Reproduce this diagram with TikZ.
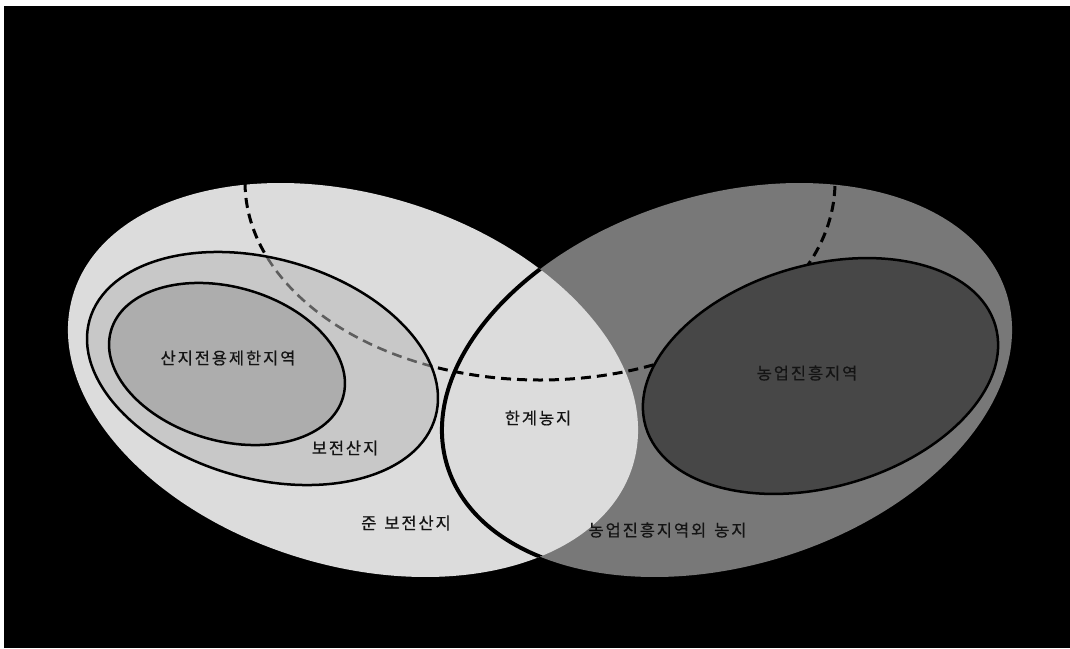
\documentclass[tikz,border=0pt]{standalone}
\usepackage{fontspec}
\newfontfamily\kr[FakeBold=0.5]{Noto Sans CJK KR}
\definecolor{lightg}{HTML}{DCDCDC}
\definecolor{rightg}{HTML}{787878}
\definecolor{bojeon}{HTML}{C8C8C8}
\definecolor{sanji}{HTML}{ADADAD}
\definecolor{nongup}{HTML}{474747}
\definecolor{dashg}{HTML}{5E5E5E}
\definecolor{txt}{HTML}{141414}
\def\lsp{\kern1.9pt}
\tikzset{
  lbl/.style={font=\kr\fontsize{16.5}{19}\selectfont, text=txt, inner sep=0pt},
  rim/.style={draw=black, line width=2.5pt},
  dashline/.style={line width=3pt, dash pattern=on 10pt off 6pt},
}
\begin{document}
\begin{tikzpicture}[x=1pt,y=-1pt]
\useasboundingbox (0,0) rectangle (1070,648);
\fill[white] (0,0) rectangle (1070,648);
\fill[black] (4,6) rectangle (1070,648);
% big ellipses
\fill[rightg, rotate around={17:(727,380)}] (727,380) ellipse [x radius=292.6pt, y radius=185.5pt];
\fill[lightg, rotate around={-17:(353,380)}] (353,380) ellipse [x radius=292.6pt, y radius=185.5pt];
\begin{scope}
  \clip[rotate around={-17:(353,380)}] (353,380) ellipse [x radius=292.6pt, y radius=185.5pt];
  \draw[black, line width=4pt, rotate around={17:(727,380)}] (727,380) ellipse [x radius=292.6pt, y radius=185.5pt];
\end{scope}
% dashed arc
\coordinate (dstart) at (245,182);
\draw[black, dashline] (dstart) arc [start angle=180, end angle=360, x radius=295pt, y radius=198pt];
% bojeon sanji
\fill[bojeon, rotate around={-15.6:(262.5,368.5)}] (262.5,368.5) ellipse [x radius=179.6pt, y radius=110.1pt];
\begin{scope}
  \clip[rotate around={-15.6:(262.5,368.5)}] (262.5,368.5) ellipse [x radius=179.6pt, y radius=110.1pt];
  \draw[dashg, dashline, line width=2.6pt] (dstart) arc [start angle=180, end angle=360, x radius=295pt, y radius=198pt];
\end{scope}
\draw[rim, rotate around={-15.6:(262.5,368.5)}] (262.5,368.5) ellipse [x radius=179.6pt, y radius=110.1pt];
% sanji jeonyong jehan
\filldraw[fill=sanji, rim, rotate around={-16:(227,364)}] (227,364) ellipse [x radius=120.7pt, y radius=76.9pt];
% nongup jinheung
\filldraw[fill=nongup, rim, rotate around={16:(820.5,376)}] (820.5,376) ellipse [x radius=182pt, y radius=111pt];
% labels
\node[lbl] (t1) at (228,358) {산\lsp 지\lsp 전\lsp 용\lsp 제\lsp 한\lsp 지\lsp 역};
\node[lbl] (t2) at (345,448) {보\lsp 전\lsp 산\lsp 지};
\node[lbl] (t3) at (406,523) {준\hspace{8pt}보\lsp 전\lsp 산\lsp 지};
\node[lbl] (t4) at (538,418) {한\lsp 계\lsp 농\lsp 지};
\node[lbl] (t5) at (807,373) {농\lsp 업\lsp 진\lsp 흥\lsp 지\lsp 역};
\node[lbl] (t6) at (667.5,530) {농\lsp 업\lsp 진\lsp 흥\lsp 지\lsp 역\lsp 외\hspace{8pt}농\lsp 지};
\end{tikzpicture}
\end{document}
